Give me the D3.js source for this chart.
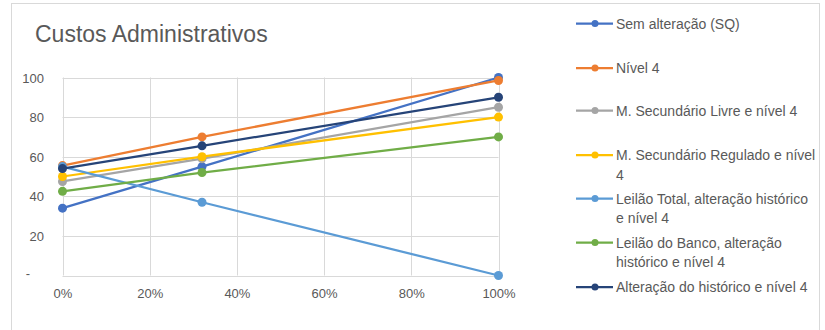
<!DOCTYPE html>
<html><head><meta charset="utf-8">
<script src="https://cdn.jsdelivr.net/npm/d3@7"></script>
<style>body{margin:0;background:#fff}svg{display:block}text{font-family:"Liberation Sans",Arial,sans-serif}</style>
</head><body><svg id="c" width="825" height="330"></svg>
<script>
const xValues = [0, 0.32, 1];
const seriesNames = [
  "Sem alteração (SQ)",
  "Nível 4",
  "M. Secundário Livre e nível 4",
  "M. Secundário Regulado e nível 4",
  "Leilão Total, alteração histórico e nível 4",
  "Leilão do Banco, alteração histórico e nível 4",
  "Alteração do histórico e nível 4"
];
const legendLines = [
  ["Sem alteração (SQ)"],
  ["Nível 4"],
  ["M. Secundário Livre e nível 4"],
  ["M. Secundário Regulado e nível", "4"],
  ["Leilão Total, alteração histórico", "e nível 4"],
  ["Leilão do Banco, alteração", "histórico e nível 4"],
  ["Alteração do histórico e nível 4"]
];
const semAlteracao = [34, 55, 100];
const nivel4 = [55.5, 70, 98.5];
const secLivre = [47.5, 59, 85];
const secRegulado = [50, 60, 80];
const leilaoTotal = [55, 37, 0];
const leilaoBanco = [42.5, 52, 70];
const alteracaoHist = [54, 65.5, 90];
const seriesValues = [semAlteracao, nivel4, secLivre, secRegulado, leilaoTotal, leilaoBanco, alteracaoHist];
const colors = ["#4472C4", "#ED7D31", "#A5A5A5", "#FFC000", "#5B9BD5", "#70AD47", "#264478"];
const yTicks = [0, 20, 40, 60, 80, 100];
const xTicks = [0, 0.2, 0.4, 0.6, 0.8, 1];

const svg = d3.select("#c");
svg.append("rect").attr("x", 11.5).attr("y", 3.5).attr("width", 808).attr("height", 330)
  .attr("fill", "none").attr("stroke", "#d9d9d9");

const x = d3.scaleLinear().domain([0, 1]).range([62.5, 498.5]);
const y = d3.scaleLinear().domain([0, 100]).range([275.5, 77.5]);

svg.append("text").attr("x", 35).attr("y", 41.5).attr("fill", "#595959")
  .style("font-size", "23px").text("Custos Administrativos");

const g = svg.append("g");
g.selectAll("line.h").data(yTicks).join("line")
  .attr("x1", x(0)).attr("x2", x(1)).attr("y1", d => Math.round(y(d)) + 0.5).attr("y2", d => Math.round(y(d)) + 0.5)
  .attr("stroke", "#d9d9d9").attr("stroke-width", 1);
g.selectAll("line.v").data(xTicks).join("line")
  .attr("y1", y(0)).attr("y2", y(100)).attr("x1", d => Math.round(x(d)) + 0.5).attr("x2", d => Math.round(x(d)) + 0.5)
  .attr("stroke", "#d9d9d9").attr("stroke-width", 1);

const yAxis = d3.axisLeft(y).tickValues(yTicks).tickSize(0).tickPadding(0)
  .tickFormat(d => d === 0 ? "-" : d);
const ya = svg.append("g").attr("transform", "translate(44,0)").call(yAxis);
ya.select(".domain").remove();
ya.selectAll("text").attr("fill", "#595959").style("font-size", "13px").attr("dy", "0.35em");
ya.selectAll(".tick").filter(d => d === 0).select("text").attr("x", -14).attr("dy", "0.15em");

const xAxis = d3.axisBottom(x).tickValues(xTicks).tickSize(0).tickPadding(0)
  .tickFormat(d3.format(".0%"));
const xa = svg.append("g").attr("transform", "translate(0,289)").call(xAxis);
xa.select(".domain").remove();
xa.selectAll("text").attr("fill", "#595959").style("font-size", "13px").attr("dy", "0.71em");

const line = d3.line().x((d, i) => x(xValues[i])).y(d => y(d));
seriesValues.forEach((vals, si) => {
  svg.append("path").attr("d", line(vals)).attr("fill", "none")
    .attr("stroke", colors[si]).attr("stroke-width", 2.25).attr("stroke-linejoin", "round");
  svg.selectAll(null).data(vals).join("circle")
    .attr("cx", (d, i) => x(xValues[i])).attr("cy", d => y(d)).attr("r", 4.5)
    .attr("fill", colors[si]);
});

const legendY = [23.5, 68, 110.5, 155, 198.5, 242.5, 287];
legendLines.forEach((lines, i) => {
  const ly = legendY[i];
  const lg = svg.append("g");
  lg.append("line").attr("x1", 576).attr("x2", 613).attr("y1", ly).attr("y2", ly)
    .attr("stroke", colors[i]).attr("stroke-width", 2.25);
  lg.append("circle").attr("cx", 595).attr("cy", ly).attr("r", 3.5).attr("fill", colors[i]);
  lines.forEach((t, j) => {
    lg.append("text").attr("x", 616).attr("y", ly + 5 + j * 19.5).attr("fill", "#595959")
      .style("font-size", "14px").text(t);
  });
});
</script></body></html>
